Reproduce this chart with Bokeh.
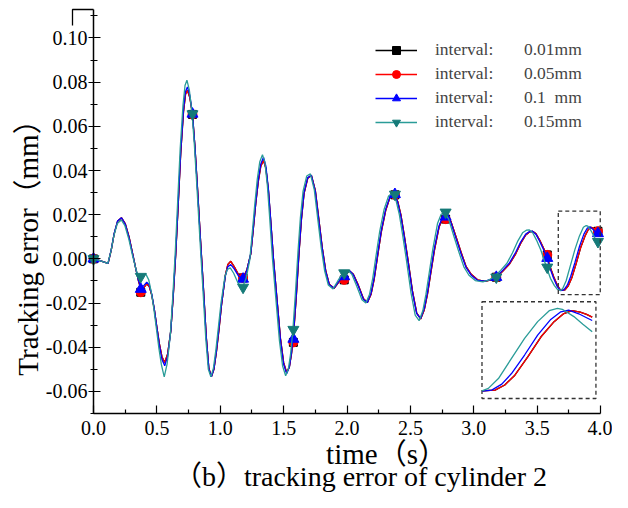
import math
from bokeh.plotting import figure
from bokeh.models import FixedTicker, PrintfTickFormatter, Legend, LegendItem, Label, Range1d
from bokeh.embed import file_html
from bokeh.resources import INLINE

# ---------------- data ----------------
red_pts = [
    (0.000, 0.0000), (0.050, -0.0008), (0.115, -0.0020), (0.140, 0.0040), (0.163, 0.0113),
    (0.190, 0.0170), (0.221, 0.0186), (0.250, 0.0160), (0.281, 0.0098), (0.310, 0.0020),
    (0.334, -0.0045), (0.355, -0.0100), (0.373, -0.0135), (0.395, -0.0132), (0.420, -0.0113),
    (0.440, -0.0125), (0.460, -0.0165), (0.480, -0.0230), (0.500, -0.0310), (0.520, -0.0385),
    (0.540, -0.0443), (0.562, -0.0469), (0.585, -0.0430), (0.610, -0.0325), (0.630, -0.0160),
    (0.649, 0.0023), (0.668, 0.0240), (0.688, 0.0476), (0.710, 0.0665), (0.726, 0.0745),
    (0.741, 0.0763), (0.760, 0.0730), (0.781, 0.0654), (0.800, 0.0510), (0.820, 0.0325),
    (0.845, 0.0080), (0.867, -0.0129), (0.890, -0.0355), (0.910, -0.0495), (0.930, -0.0534),
    (0.950, -0.0500), (0.970, -0.0420), (0.990, -0.0320), (1.010, -0.0210), (1.040, -0.0075),
    (1.060, -0.0025), (1.083, -0.0011), (1.110, -0.0035), (1.145, -0.0072), (1.180, -0.0086),
    (1.210, -0.0050), (1.241, 0.0023), (1.260, 0.0130), (1.280, 0.0250), (1.300, 0.0350),
    (1.320, 0.0420), (1.341, 0.0446), (1.360, 0.0410), (1.380, 0.0310), (1.398, 0.0174),
    (1.420, 0.0000), (1.451, -0.0204), (1.475, -0.0360), (1.500, -0.0470), (1.524, -0.0514),
    (1.545, -0.0490), (1.562, -0.0430), (1.580, -0.0330), (1.600, -0.0170), (1.621, 0.0023),
    (1.640, 0.0175), (1.661, 0.0295), (1.690, 0.0365), (1.719, 0.0378), (1.750, 0.0310),
    (1.779, 0.0174), (1.805, 0.0050), (1.832, -0.0053), (1.860, -0.0115), (1.898, -0.0133),
    (1.935, -0.0105), (1.970, -0.0082), (2.000, -0.0065), (2.020, -0.0055), (2.050, -0.0070),
    (2.090, -0.0120), (2.130, -0.0180), (2.161, -0.0197), (2.190, -0.0160), (2.215, -0.0090),
    (2.240, 0.0007), (2.270, 0.0120), (2.305, 0.0219), (2.340, 0.0280), (2.371, 0.0295),
    (2.400, 0.0260), (2.425, 0.0200), (2.450, 0.0113), (2.480, 0.0000), (2.516, -0.0144),
    (2.550, -0.0245), (2.581, -0.0272), (2.610, -0.0230), (2.635, -0.0160), (2.660, -0.0068),
    (2.690, 0.0040), (2.726, 0.0143), (2.755, 0.0185), (2.786, 0.0196), (2.820, 0.0170),
    (2.860, 0.0100), (2.900, 0.0030), (2.940, -0.0035), (2.980, -0.0070), (3.030, -0.0095),
    (3.090, -0.0102), (3.135, -0.0095), (3.180, -0.0083), (3.230, -0.0055), (3.280, -0.0025),
    (3.331, 0.0023), (3.370, 0.0070), (3.410, 0.0108), (3.440, 0.0122), (3.464, 0.0125),
    (3.490, 0.0115), (3.520, 0.0085), (3.554, 0.0045), (3.580, 0.0005), (3.605, -0.0040),
    (3.630, -0.0080), (3.660, -0.0120), (3.685, -0.0143), (3.720, -0.0140), (3.746, -0.0122),
    (3.773, -0.0087), (3.808, -0.0021), (3.843, 0.0050), (3.878, 0.0104), (3.904, 0.0133),
    (3.926, 0.0143), (3.948, 0.0138), (3.965, 0.0130), (3.980, 0.0120),
]

blue_pts = [
    (0.000, 0.0000), (0.050, -0.0008), (0.115, -0.0020), (0.140, 0.0042), (0.163, 0.0115),
    (0.190, 0.0172), (0.221, 0.0186), (0.250, 0.0158), (0.281, 0.0095), (0.310, 0.0018),
    (0.334, -0.0045), (0.355, -0.0098), (0.373, -0.0128), (0.395, -0.0122), (0.420, -0.0105),
    (0.440, -0.0118), (0.460, -0.0160), (0.480, -0.0228), (0.500, -0.0312), (0.520, -0.0392),
    (0.540, -0.0455), (0.562, -0.0484), (0.585, -0.0440), (0.610, -0.0325), (0.630, -0.0155),
    (0.649, 0.0030), (0.668, 0.0250), (0.688, 0.0485), (0.710, 0.0675), (0.726, 0.0758),
    (0.741, 0.0778), (0.760, 0.0740), (0.781, 0.0656), (0.800, 0.0510), (0.820, 0.0322),
    (0.845, 0.0075), (0.867, -0.0132), (0.890, -0.0358), (0.910, -0.0497), (0.930, -0.0534),
    (0.950, -0.0498), (0.970, -0.0415), (0.990, -0.0312), (1.010, -0.0205), (1.040, -0.0078),
    (1.060, -0.0035), (1.083, -0.0026), (1.110, -0.0045), (1.145, -0.0078), (1.180, -0.0091),
    (1.210, -0.0052), (1.241, 0.0025), (1.260, 0.0135), (1.280, 0.0256), (1.300, 0.0358),
    (1.320, 0.0430), (1.341, 0.0460), (1.360, 0.0420), (1.380, 0.0315), (1.398, 0.0175),
    (1.420, -0.0002), (1.451, -0.0208), (1.475, -0.0366), (1.500, -0.0476), (1.524, -0.0520),
    (1.545, -0.0490), (1.562, -0.0425), (1.580, -0.0322), (1.600, -0.0160), (1.621, 0.0030),
    (1.640, 0.0182), (1.661, 0.0300), (1.690, 0.0368), (1.719, 0.0378), (1.750, 0.0306),
    (1.779, 0.0168), (1.805, 0.0045), (1.832, -0.0057), (1.860, -0.0117), (1.898, -0.0132),
    (1.935, -0.0102), (1.970, -0.0080), (2.000, -0.0062), (2.020, -0.0054), (2.050, -0.0072),
    (2.090, -0.0124), (2.130, -0.0184), (2.161, -0.0197), (2.190, -0.0155), (2.215, -0.0083),
    (2.240, 0.0015), (2.270, 0.0128), (2.305, 0.0224), (2.340, 0.0283), (2.371, 0.0294),
    (2.400, 0.0256), (2.425, 0.0194), (2.450, 0.0106), (2.480, -0.0008), (2.516, -0.0150),
    (2.550, -0.0248), (2.581, -0.0270), (2.610, -0.0224), (2.635, -0.0152), (2.660, -0.0058),
    (2.690, 0.0050), (2.726, 0.0150), (2.755, 0.0190), (2.786, 0.0196), (2.820, 0.0165),
    (2.860, 0.0093), (2.900, 0.0023), (2.940, -0.0040), (2.980, -0.0074), (3.030, -0.0097),
    (3.090, -0.0101), (3.135, -0.0093), (3.180, -0.0080), (3.230, -0.0051), (3.280, -0.0020),
    (3.331, 0.0030), (3.370, 0.0076), (3.410, 0.0112), (3.440, 0.0124), (3.464, 0.0125),
    (3.490, 0.0112), (3.520, 0.0080), (3.554, 0.0038), (3.580, -0.0002), (3.605, -0.0048),
    (3.630, -0.0088), (3.660, -0.0127), (3.685, -0.0144), (3.711, -0.0140), (3.738, -0.0119),
    (3.764, -0.0081), (3.799, -0.0015), (3.834, 0.0056), (3.869, 0.0112), (3.896, 0.0139),
    (3.917, 0.0145), (3.944, 0.0132), (3.965, 0.0118), (3.980, 0.0108),
]

teal_pts = [
    (0.000, 0.0000), (0.050, -0.0008), (0.113, -0.0020), (0.138, 0.0035), (0.161, 0.0105),
    (0.188, 0.0160), (0.219, 0.0176), (0.248, 0.0150), (0.279, 0.0088), (0.308, 0.0015),
    (0.332, -0.0040), (0.352, -0.0080), (0.371, -0.0085), (0.392, -0.0072), (0.412, -0.0068),
    (0.436, -0.0095), (0.456, -0.0150), (0.476, -0.0225), (0.496, -0.0315), (0.516, -0.0405),
    (0.536, -0.0480), (0.558, -0.0534), (0.581, -0.0475), (0.606, -0.0345), (0.626, -0.0165),
    (0.645, 0.0030), (0.664, 0.0260), (0.684, 0.0500), (0.706, 0.0695), (0.722, 0.0785),
    (0.737, 0.0809), (0.756, 0.0765), (0.777, 0.0662), (0.796, 0.0515), (0.816, 0.0325),
    (0.841, 0.0075), (0.863, -0.0135), (0.886, -0.0362), (0.906, -0.0500), (0.926, -0.0534),
    (0.946, -0.0495), (0.966, -0.0410), (0.986, -0.0305), (1.006, -0.0200), (1.036, -0.0082),
    (1.056, -0.0048), (1.079, -0.0041), (1.106, -0.0065), (1.141, -0.0110), (1.176, -0.0129),
    (1.204, -0.0088), (1.233, -0.0005), (1.252, 0.0115), (1.272, 0.0245), (1.292, 0.0360),
    (1.312, 0.0440), (1.333, 0.0472), (1.352, 0.0438), (1.372, 0.0330), (1.390, 0.0185),
    (1.412, 0.0000), (1.443, -0.0210), (1.467, -0.0370), (1.492, -0.0485), (1.516, -0.0529),
    (1.537, -0.0500), (1.554, -0.0435), (1.572, -0.0330), (1.592, -0.0165), (1.613, 0.0030),
    (1.632, 0.0185), (1.653, 0.0305), (1.682, 0.0375), (1.711, 0.0385), (1.742, 0.0312),
    (1.771, 0.0172), (1.797, 0.0048), (1.824, -0.0055), (1.852, -0.0118), (1.890, -0.0136),
    (1.927, -0.0100), (1.962, -0.0070), (1.988, -0.0060), (2.008, -0.0053), (2.038, -0.0070),
    (2.078, -0.0125), (2.118, -0.0185), (2.149, -0.0200), (2.178, -0.0160), (2.203, -0.0088),
    (2.228, 0.0010), (2.258, 0.0125), (2.293, 0.0225), (2.328, 0.0285), (2.359, 0.0298),
    (2.388, 0.0262), (2.413, 0.0200), (2.438, 0.0112), (2.468, -0.0002), (2.504, -0.0150),
    (2.538, -0.0255), (2.569, -0.0280), (2.598, -0.0235), (2.623, -0.0160), (2.648, -0.0065),
    (2.678, 0.0048), (2.714, 0.0160), (2.743, 0.0202), (2.770, 0.0211), (2.802, 0.0180),
    (2.842, 0.0105), (2.882, 0.0032), (2.922, -0.0036), (2.962, -0.0074), (3.012, -0.0098),
    (3.072, -0.0104), (3.117, -0.0096), (3.160, -0.0082), (3.212, -0.0052), (3.262, -0.0020),
    (3.306, 0.0028), (3.345, 0.0078), (3.385, 0.0118), (3.415, 0.0130), (3.439, 0.0131),
    (3.465, 0.0118), (3.495, 0.0085), (3.529, 0.0040), (3.555, -0.0005), (3.580, -0.0048),
    (3.605, -0.0088), (3.635, -0.0120), (3.660, -0.0138), (3.685, -0.0143), (3.702, -0.0134),
    (3.729, -0.0099), (3.764, -0.0027), (3.799, 0.0044), (3.834, 0.0104), (3.865, 0.0143),
    (3.887, 0.0151), (3.900, 0.0148), (3.931, 0.0122), (3.955, 0.0095), (3.980, 0.0068),
]

red_t = [p[0] for p in red_pts]
red_y = [p[1] for p in red_pts]
black_t = red_t            # the 0.01 mm curve lies under the 0.05 mm curve
black_y = red_y
blue_t = [p[0] for p in blue_pts]
blue_y = [p[1] for p in blue_pts]
teal_t = [p[0] for p in teal_pts]
teal_y = [p[1] for p in teal_pts]

marker_t = [0.0, 0.373, 0.781, 1.18, 1.577, 1.978, 2.378, 2.778, 3.178, 3.58, 3.98]
black_mk = [0.0, -0.0151, 0.0654, -0.0086, -0.0378, -0.0095, 0.0290, 0.0180, -0.0083, 0.0018, 0.0125]
red_mk = [0.0, -0.0151, 0.0654, -0.0086, -0.0378, -0.0095, 0.0290, 0.0180, -0.0083, 0.0018, 0.0125]
blue_mk = [0.0, -0.0137, 0.0656, -0.0091, -0.0363, -0.0080, 0.0292, 0.0190, -0.0083, 0.0003, 0.0115]
teal_mk = [0.0, -0.0080, 0.0656, -0.0129, -0.0320, -0.0064, 0.0292, 0.0211, -0.0083, -0.0038, 0.0078]

NB = "\u00a0"
labels = ["interval:" + NB * 7 + "0.01mm",
          "interval:" + NB * 7 + "0.05mm",
          "interval:" + NB * 7 + "0.1" + NB * 2 + "mm",
          "interval:" + NB * 7 + "0.15mm"]

x_ticks = [0.0, 0.5, 1.0, 1.5, 2.0, 2.5, 3.0, 3.5, 4.0]
x_minor = [0.25, 0.75, 1.25, 1.75, 2.25, 2.75, 3.25, 3.75]
y_ticks = [-0.06, -0.04, -0.02, 0.0, 0.02, 0.04, 0.06, 0.08, 0.10]
y_minor = [-0.07, -0.05, -0.03, -0.01, 0.01, 0.03, 0.05, 0.07, 0.09, 0.11]
x_axis_span = (0.0, 4.0)
y_axis_span = (-0.07, 0.1129)

x_title = "time\uff08s\uff09"
y_title = "Tracking error\uff08mm\uff09"
caption = "\uff08b\uff09tracking error of cylinder 2"

# zoom window (main axes) and inset box (main axes) + inset view window
zoom_box = (3.667, 3.998, -0.0162, 0.0216)      # left, right, bottom, top
inset_box = (3.065, 3.964, -0.0632, -0.0194)
inset_view = (3.685, 3.990, -0.0170, 0.0175)

# ---------------- layout (pixels) ----------------
W, H = 612, 492
AX_LEFT, AX_RIGHT, AX_TOP, AX_BOTTOM = 93, 600, 9, 413     # where the axes sit in the picture
sx = (AX_RIGHT - AX_LEFT) / (x_axis_span[1] - x_axis_span[0])
sy = (AX_BOTTOM - AX_TOP) / (y_axis_span[1] - y_axis_span[0])
x_range = Range1d(x_axis_span[0] - AX_LEFT / sx, x_axis_span[1] + (W - AX_RIGHT) / sx)
y_range = Range1d(y_axis_span[0] - (H - AX_BOTTOM) / sy, y_axis_span[1] + AX_TOP / sy)

SERIF = "Liberation Serif"
SERIF_CJK = "'Liberation Serif', 'Noto Sans CJK SC'"
C_BLACK, C_RED, C_BLUE = "#000000", "#ff0000", "#0000ff"
C_TEAL, C_TEAL_MK = "#2a9c98", "#157a78"

p = figure(width=W, height=H, output_backend="svg", toolbar_location=None,
           x_range=x_range, y_range=y_range,
           min_border_left=0, min_border_right=0, min_border_top=0, min_border_bottom=0)
p.outline_line_color = None
p.xgrid.visible = False
p.ygrid.visible = False
p.background_fill_color = "white"
p.border_fill_color = "white"

lw = 1.3
r_bl = p.line(black_t, black_y, color=C_BLACK, line_width=lw)
m_bl = p.scatter(marker_t, black_mk, marker="square", size=8, color=C_BLACK)
r_rd = p.line(red_t, red_y, color=C_RED, line_width=lw)
m_rd = p.scatter(marker_t, red_mk, marker="circle", size=9, color=C_RED)
r_bu = p.line(blue_t, blue_y, color=C_BLUE, line_width=lw)
m_bu = p.scatter(marker_t, blue_mk, marker="triangle", size=11, color=C_BLUE)
r_te = p.line(teal_t, teal_y, color=C_TEAL, line_width=lw)
m_te = p.scatter(marker_t, teal_mk, marker="inverted_triangle", size=11, color=C_TEAL_MK)

# dashed zoom box and inset box
for (l, r, b, t) in (zoom_box, inset_box):
    p.quad(left=[l], right=[r], bottom=[b], top=[t], fill_alpha=0,
           line_color="#333333", line_width=1.3, line_dash="4 3")

# inset curves: the same series mapped into the inset box
vx0, vx1, vy0, vy1 = inset_view
bx0, bx1, by0, by1 = inset_box
def to_inset(ts, ys):
    xs, yy = [], []
    for t, y in zip(ts, ys):
        if vx0 <= t <= vx1:
            xs.append(bx0 + (t - vx0) / (vx1 - vx0) * (bx1 - bx0))
            yy.append(by0 + (y - vy0) / (vy1 - vy0) * (by1 - by0))
    return xs, yy

for ts, ys, c in ((black_t, black_y, C_BLACK), (red_t, red_y, C_RED),
                  (blue_t, blue_y, C_BLUE), (teal_t, teal_y, C_TEAL)):
    xs, yy = to_inset(ts, ys)
    p.line(xs, yy, color=c, line_width=1.3)

# small bracket left over at the top of the y axis in the original figure
bracket_px = 21  # its width in pixels
p.line([x_axis_span[0] - bracket_px / sx, x_axis_span[0] - bracket_px / sx, x_axis_span[0]],
       [y_axis_span[1] - 16 / sy, y_axis_span[1], y_axis_span[1]], color="black", line_width=1.3)

# axes, pinned at the data origin so the frame can cover the whole picture
xa = p.xaxis[0]
xa.fixed_location = y_axis_span[0]
xa.bounds = x_axis_span
xa.ticker = FixedTicker(ticks=x_ticks, minor_ticks=x_minor)
xa.formatter = PrintfTickFormatter(format="%.1f")
xa.major_tick_in, xa.major_tick_out = 8, 0
xa.minor_tick_in, xa.minor_tick_out = 4, 0
xa.major_label_standoff = 7

ya = p.yaxis[0]
ya.fixed_location = x_axis_span[0]
ya.bounds = y_axis_span
ya.ticker = FixedTicker(ticks=y_ticks, minor_ticks=y_minor)
ya.formatter = PrintfTickFormatter(format="%.2f")
ya.major_tick_in, ya.major_tick_out = 7, 5
ya.minor_tick_in, ya.minor_tick_out = 4, 3
ya.major_label_standoff = 1

for ax in (xa, ya):
    ax.axis_line_width = 1.5
    ax.axis_line_color = "black"
    ax.major_tick_line_color = "black"
    ax.minor_tick_line_color = "black"
    ax.major_tick_line_width = 1.2
    ax.minor_tick_line_width = 1.2
    ax.major_label_text_font = SERIF
    ax.major_label_text_font_size = "20px"
    ax.major_label_text_color = "black"

# axis titles and caption (screen px from the bottom-left of the picture, text middles)
p.add_layout(Label(x=386, y=H - 453, x_units="screen", y_units="screen", text=x_title,
                   text_align="center", text_baseline="middle",
                   text_font=SERIF_CJK, text_font_size="29px", text_color="black"))
p.add_layout(Label(x=360, y=H - 476, x_units="screen", y_units="screen", text=caption,
                   text_align="center", text_baseline="middle",
                   text_font=SERIF_CJK, text_font_size="28px", text_color="black"))
p.add_layout(Label(x=27, y=H - 240, x_units="screen", y_units="screen", text=y_title,
                   angle=math.pi / 2, text_align="center", text_baseline="middle",
                   text_font=SERIF_CJK, text_font_size="29px", text_color="black"))

# legend
legend = Legend(items=[
    LegendItem(label=labels[0], renderers=[r_bl, m_bl]),
    LegendItem(label=labels[1], renderers=[r_rd, m_rd]),
    LegendItem(label=labels[2], renderers=[r_bu, m_bu]),
    LegendItem(label=labels[3], renderers=[r_te, m_te]),
], location=(375, H - 132))
legend.background_fill_alpha = 0
legend.border_line_color = None
legend.label_text_font = SERIF
legend.label_text_font_size = "17.5px"
legend.glyph_width = 42
legend.glyph_height = 20
legend.label_height = 20
legend.spacing = 3
legend.padding = 0
legend.margin = 0
legend.label_standoff = 18
p.add_layout(legend)

open("out.html", "w").write(file_html(p, INLINE))
